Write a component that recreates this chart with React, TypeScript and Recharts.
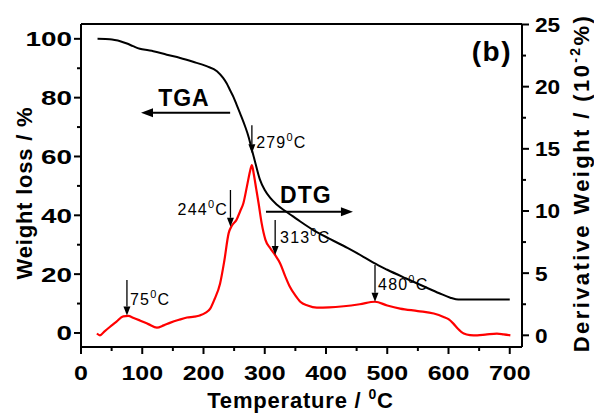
import React from 'react';
import { ComposedChart, Line, XAxis, YAxis, ReferenceLine, ReferenceDot } from 'recharts';

// ---------- data ----------
const tgaTemp = [27, 40, 47, 55, 64, 75, 85, 96, 110, 118, 140, 162, 183, 205, 222, 232, 238, 243, 249, 254, 261, 268, 274, 279, 285, 292, 300, 309, 320, 331, 345, 358, 380, 407, 435, 461, 478, 500, 530, 560, 585, 603, 612, 620, 650, 680, 700];
const tgaWeight = [100, 99.95, 99.85, 99.6, 99.2, 98.4, 97.5, 96.6, 96.1, 95.8, 94.6, 93.5, 92.2, 90.7, 89.0, 86.7, 84.8, 82.7, 80.2, 77.6, 74.0, 70.2, 66.4, 62.3, 57.5, 52.2, 48.6, 45.9, 43.6, 41.8, 39.8, 37.9, 34.9, 31.9, 28.9, 25.9, 23.8, 21.5, 18.6, 15.8, 13.5, 12.0, 11.5, 11.4, 11.4, 11.4, 11.4];

const dtgTemp = [26, 31, 38, 47, 58, 69, 77, 86, 96, 110, 124, 135, 145, 160, 173, 185, 194, 203, 211, 218, 227, 234, 241, 246, 254, 260, 265, 271, 276, 279, 282, 286, 290, 295, 301, 309, 317, 325, 333, 341, 350, 358, 370, 385, 405, 429, 455, 480, 500, 521, 550, 576, 592, 600, 608, 615, 625, 635, 647, 660, 679, 690, 701];
const dtgValue = [0.15, 0.0, 0.3, 0.67, 1.1, 1.53, 1.56, 1.4, 1.2, 0.9, 0.62, 0.8, 1.0, 1.25, 1.43, 1.5, 1.6, 1.8, 2.15, 2.9, 4.15, 6.0, 8.2, 8.8, 9.3, 10.0, 10.6, 12.0, 13.2, 13.7, 13.0, 11.8, 10.6, 9.0, 7.7, 7.0, 6.45, 5.8, 4.8, 3.9, 3.2, 2.7, 2.4, 2.23, 2.25, 2.34, 2.5, 2.7, 2.4, 2.15, 1.95, 1.75, 1.48, 1.3, 0.94, 0.55, 0.14, 0.02, 0.0, 0.05, 0.14, 0.08, 0.0];

const xTicks = [0, 50, 100, 150, 200, 250, 300, 350, 400, 450, 500, 550, 600, 650, 700];
const leftTicks = [0, 10, 20, 30, 40, 50, 60, 70, 80, 90, 100];
const rightTicks = [0, 2.5, 5, 7.5, 10, 12.5, 15, 17.5, 20, 22.5, 25];

// peak annotations (temperature / left-axis units)
const peakLabels = ['75', '244', '279', '313', '480'];
const peakArrowT = [75, 244, 279, 317, 480];
const peakArrowTop = [18, 48.6, 70.6, 38.4, 23.1];
const peakArrowTip = [5.9, 36.1, 61.1, 26.5, 10.6];
const peakLabelT = [80, 240, 286, 325, 485];
const peakLabelY = [9.4, 40.1, 62.8, 30.5, 14.6];
const peakLabelAnchor = ['start', 'end', 'start', 'start', 'start'];

// curve labels
const curveNames = ['TGA', 'DTG'];
const curveLabelT = [126, 325];
const curveLabelY = [77.0, 44.1];
const curveArrowFromT = [243.5, 302];
const curveArrowToT = [98, 444];
const curveArrowY = [74.9, 41.2];

const panelTag = '(b)';
const panelTagT = 638;
const panelTagY = 92.6;

const X_DOMAIN = [0, 720];
const LEFT_DOMAIN = [-4.77, 105.04];
const RIGHT_DOMAIN = [-0.94, 25.04];

const tgaData = tgaTemp.map((t, i) => ({ t, w: tgaWeight[i] }));
const dtgData = dtgTemp.map((t, i) => ({ t, d: dtgValue[i] }));

const FONT = '"Liberation Sans", Arial, sans-serif';

// ---------- renderers ----------
const XTick = (props: any) => {
  const { x, y, payload } = props;
  const v = payload.value;
  const major = v % 100 === 0;
  const s = String(v);
  return (
    <g>
      <line x1={x} x2={x} y1={y} y2={y + (major ? 7 : 4)} stroke="#000" strokeWidth={2} />
      {major && (
        <text x={x} y={y + 33} textAnchor="middle" fontFamily={FONT} fontWeight="bold" fontSize={21}
          textLength={s.length * 13.9} lengthAdjust="spacingAndGlyphs" fill="#000">{s}</text>
      )}
    </g>
  );
};

const LeftTick = (props: any) => {
  const { x, y, payload } = props;
  const v = payload.value;
  const major = v % 20 === 0;
  const s = String(v);
  return (
    <g>
      <line x1={x} x2={x - (major ? 7 : 4)} y1={y} y2={y} stroke="#000" strokeWidth={2} />
      {major && (
        <text x={x - 9} y={y + 7.5} textAnchor="end" fontFamily={FONT} fontWeight="bold" fontSize={21}
          textLength={s.length * 15.5} lengthAdjust="spacingAndGlyphs" fill="#000">{s}</text>
      )}
    </g>
  );
};

const RightTick = (props: any) => {
  const { x, y, payload } = props;
  const v = payload.value;
  const major = v % 5 === 0;
  const s = String(v);
  return (
    <g>
      <line x1={x} x2={x + (major ? 7 : 4)} y1={y} y2={y} stroke="#000" strokeWidth={2} />
      {major && (
        <text x={x + 13} y={y + 7.5} textAnchor="start" fontFamily={FONT} fontWeight="bold" fontSize={21}
          textLength={s.length * 12.6} lengthAdjust="spacingAndGlyphs" fill="#000">{s}</text>
      )}
    </g>
  );
};

const arrowShape = (width: number, headLen: number, headHalf: number) => (p: any) => {
  const { x1, y1, x2, y2 } = p;
  const dx = x2 - x1;
  const dy = y2 - y1;
  const len = Math.sqrt(dx * dx + dy * dy) || 1;
  const ux = dx / len;
  const uy = dy / len;
  const bx = x2 - ux * headLen;
  const by = y2 - uy * headLen;
  const px = -uy * headHalf;
  const py = ux * headHalf;
  return (
    <g>
      <line x1={x1} y1={y1} x2={bx} y2={by} stroke="#000" strokeWidth={width} />
      <polygon points={`${x2},${y2} ${bx + px},${by + py} ${bx - px},${by - py}`} fill="#000" />
    </g>
  );
};

const XTitle = (p: any) => {
  const vb = p.viewBox || { x: 81, y: 347, width: 441 };
  const cx = vb.x + vb.width / 2 - 1;
  return (
    <text x={cx} y={vb.y + 61} textAnchor="middle" fontFamily={FONT} fontWeight="bold" fontSize={22} letterSpacing={0.8} fill="#000">
      Temperature / <tspan dy={-9} fontSize={14}>0</tspan><tspan dy={9}>C</tspan>
    </text>
  );
};

const LeftTitle = () => (
  <text x={0} y={0} transform="translate(32,193) rotate(-90)" textAnchor="middle" fontFamily={FONT} fontWeight="bold" fontSize={22} letterSpacing={0.8} fill="#000">
    Weight loss / %
  </text>
);

const RightTitle = () => (
  <text x={0} y={0} transform="translate(589,183) rotate(-90)" textAnchor="middle" fontFamily={FONT} fontWeight="bold" fontSize={22} letterSpacing={2.4} fill="#000">
    Derivative Weight / (10<tspan dy={-9} fontSize={14}>-2</tspan><tspan dy={9}>%)</tspan>
  </text>
);

export default function App() {
  return (
    <div style={{ position: 'absolute', left: 0, top: 0, width: 594, height: 413, background: '#fff' }}>
      <ComposedChart width={594} height={413} margin={{ top: 24, right: 0, bottom: 0, left: 0 }}>
        <XAxis dataKey="t" type="number" domain={X_DOMAIN} ticks={xTicks} interval={0} allowDataOverflow
          height={66} tickSize={0} tickMargin={0} tick={XTick} axisLine={{ stroke: '#000', strokeWidth: 2 }}
          label={{ content: XTitle }} />
        <YAxis yAxisId="left" orientation="left" type="number" domain={LEFT_DOMAIN} ticks={leftTicks} interval={0}
          allowDataOverflow width={81} tickSize={0} tickMargin={0} tick={LeftTick}
          axisLine={{ stroke: '#000', strokeWidth: 2 }} label={{ content: LeftTitle }} />
        <YAxis yAxisId="right" orientation="right" type="number" domain={RIGHT_DOMAIN} ticks={rightTicks} interval={0}
          allowDataOverflow width={72} tickSize={0} tickMargin={0} tick={RightTick}
          axisLine={{ stroke: '#000', strokeWidth: 2 }} label={{ content: RightTitle }} />

        <ReferenceLine yAxisId="left" y={LEFT_DOMAIN[1]} stroke="#000" strokeWidth={2} ifOverflow="visible" />

        <Line data={tgaData} dataKey="w" yAxisId="left" type="monotone" dot={false} activeDot={false}
          stroke="#000" strokeWidth={2} isAnimationActive={false} />
        <Line data={dtgData} dataKey="d" yAxisId="right" type="monotone" dot={false} activeDot={false}
          stroke="#ff0000" strokeWidth={2.2} isAnimationActive={false} />

        {peakLabels.map((lab, i) => (
          <ReferenceLine key={'pa' + i} yAxisId="left" ifOverflow="visible"
            segment={[{ x: peakArrowT[i], y: peakArrowTop[i] }, { x: peakArrowT[i], y: peakArrowTip[i] }]}
            shape={arrowShape(1.3, 9, 3.5)} />
        ))}
        {peakLabels.map((lab, i) => (
          <ReferenceDot key={'pl' + i} yAxisId="left" x={peakLabelT[i]} y={peakLabelY[i]} r={0} ifOverflow="visible"
            shape={(p: any) => (
              <text x={p.cx} y={p.cy} textAnchor={peakLabelAnchor[i] as any} fontFamily={FONT} fontSize={16}
                letterSpacing={1.2} fill="#000">
                {lab}<tspan dy={-7} fontSize={11}>0</tspan><tspan dy={7}>C</tspan>
              </text>
            )} />
        ))}

        {curveNames.map((name, i) => (
          <ReferenceLine key={'ca' + i} yAxisId="left" ifOverflow="visible"
            segment={[{ x: curveArrowFromT[i], y: curveArrowY[i] }, { x: curveArrowToT[i], y: curveArrowY[i] }]}
            shape={arrowShape(2, 12, 4.5)} />
        ))}
        {curveNames.map((name, i) => (
          <ReferenceDot key={'cl' + i} yAxisId="left" x={curveLabelT[i]} y={curveLabelY[i]} r={0} ifOverflow="visible"
            shape={(p: any) => (
              <text x={p.cx} y={p.cy} textAnchor="start" fontFamily={FONT} fontWeight="bold" fontSize={23}
                letterSpacing={1} fill="#000">{name}</text>
            )} />
        ))}

        <ReferenceDot yAxisId="left" x={panelTagT} y={panelTagY} r={0} ifOverflow="visible"
          shape={(p: any) => (
            <text x={p.cx} y={p.cy} textAnchor="start" fontFamily={FONT} fontWeight="bold" fontSize={28}
              letterSpacing={1.5} fill="#000">{panelTag}</text>
          )} />
      </ComposedChart>
    </div>
  );
}
